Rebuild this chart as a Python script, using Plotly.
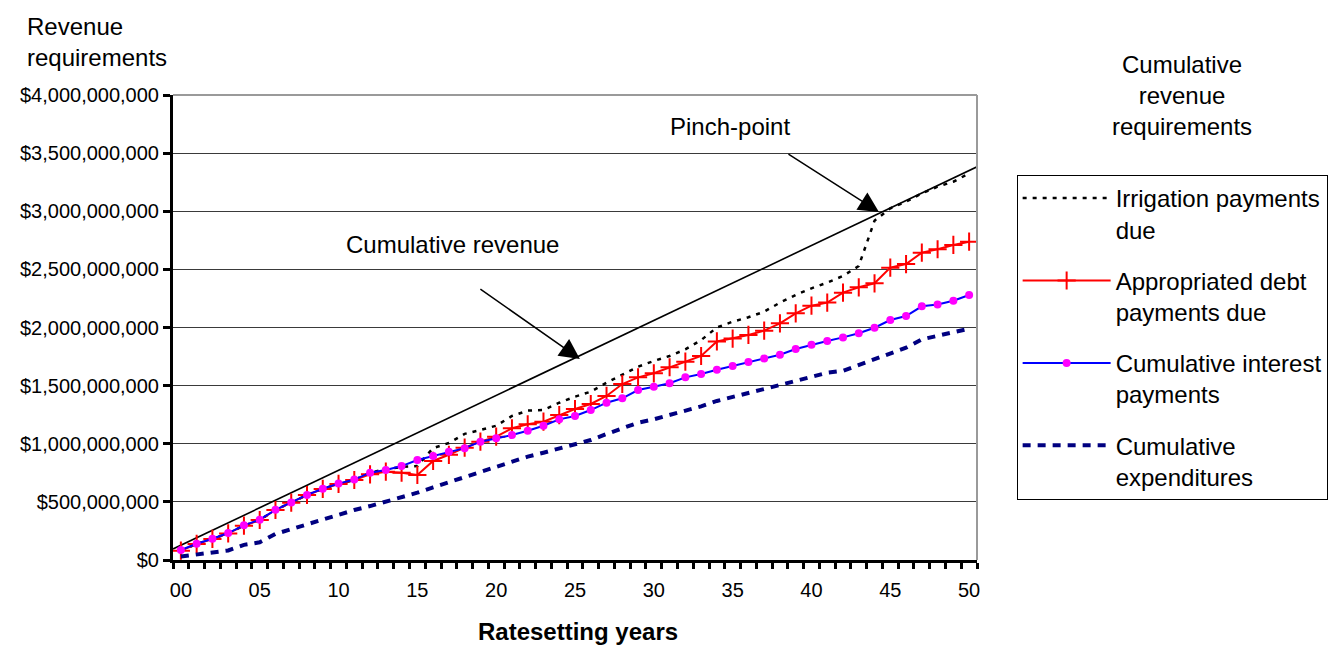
import plotly.graph_objects as go

# ---------------- data (values in millions of dollars) ----------------
years = list(range(0, 51))
tick_vals = [0, 5, 10, 15, 20, 25, 30, 35, 40, 45, 50]
tick_text = ["00", "05", "10", "15", "20", "25", "30", "35", "40", "45", "50"]

irrigation = [80, 138, 181, 229, 295, 344, 430, 493, 559, 611,
              654, 688, 750, 783, 800, 808, 963, 1006, 1085, 1118,
              1155, 1239, 1285, 1290, 1353, 1405, 1448, 1525, 1591, 1663,
              1712, 1755, 1812, 1892, 2000, 2050, 2088, 2136, 2214, 2280,
              2337, 2386, 2443, 2529, 2919, 3025, 3082, 3154, 3211, 3254,
              3326]

appropriated = [80, 138, 181, 229, 295, 344, 430, 493, 559, 611,
                654, 688, 737, 760, 751, 731, 852, 905, 966, 1018,
                1061, 1133, 1167, 1190, 1247, 1299, 1342, 1411, 1514, 1571,
                1606, 1658, 1706, 1755, 1880, 1905, 1936, 1973, 2036, 2122,
                2188, 2214, 2300, 2346, 2380, 2515, 2546, 2644, 2673, 2710,
                2738]

interest = [86, 140, 183, 232, 298, 347, 432, 495, 560, 613,
            657, 692, 751, 774, 808, 860, 894, 932, 962, 1018,
            1047, 1075, 1112, 1155, 1210, 1239, 1290, 1353, 1391, 1462,
            1491, 1520, 1571, 1600, 1637, 1669, 1703, 1733, 1766, 1815,
            1852, 1884, 1915, 1950, 1998, 2064, 2099, 2182, 2198, 2230,
            2280]

expenditures = [30, 50, 66, 82, 130, 152, 224, 267, 310, 350,
                393, 430, 464, 502, 539, 579, 625, 670, 717, 760,
                803, 846, 889, 923, 961, 995, 1032, 1084, 1133, 1181,
                1210, 1247, 1285, 1322, 1368, 1405, 1439, 1471, 1505, 1540,
                1571, 1611, 1628, 1677, 1726, 1783, 1826, 1898, 1927, 1964,
                1990]

revenue_x = [-0.5, 50.5]
revenue_y = [95, 3382]

M = 1e6
FONT = "Liberation Sans, Arial, sans-serif"

fig = go.Figure()

fig.add_trace(go.Scatter(
    x=revenue_x, y=[v * M for v in revenue_y], mode="lines",
    line=dict(color="black", width=1.6), showlegend=False, hoverinfo="skip"))

fig.add_trace(go.Scatter(
    x=years, y=[v * M for v in irrigation], mode="lines",
    name="Irrigation payments<br>due", legendgroup="g1",
    line=dict(color="black", width=2.5, dash="4px,6px")))

fig.add_trace(go.Scatter(
    x=years, y=[v * M for v in appropriated], mode="lines+markers",
    name="Appropriated debt<br>payments due", legendgroup="g2",
    line=dict(color="#ff0000", width=2),
    marker=dict(symbol="cross-thin", size=13, color="#ff0000",
                line=dict(color="#ff0000", width=2))))

fig.add_trace(go.Scatter(
    x=years, y=[v * M for v in interest], mode="lines+markers",
    name="Cumulative interest<br>payments", legendgroup="g3",
    line=dict(color="#0000ff", width=2),
    marker=dict(symbol="circle", size=8, color="#ff00ff")))

fig.add_trace(go.Scatter(
    x=years, y=[v * M for v in expenditures], mode="lines",
    name="Cumulative<br>expenditures", legendgroup="g4",
    line=dict(color="#000080", width=4, dash="8px,7px")))

fig.update_layout(
    width=1332, height=640, autosize=False,
    margin=dict(l=157, r=363, t=87, b=88),
    paper_bgcolor="white", plot_bgcolor="white",
    font=dict(family=FONT, size=24, color="black"),
    showlegend=True,
    legend=dict(
        x=1.0493, y=0.828, xanchor="left", yanchor="top",
        bordercolor="black", borderwidth=1, bgcolor="white",
        font=dict(family=FONT, size=24, color="black"),
        itemwidth=88, tracegroupgap=17, valign="top",
        traceorder="grouped"),
    xaxis=dict(
        range=[-0.5, 50.5], tickmode="array", tickvals=tick_vals,
        ticktext=tick_text, ticks="", showgrid=False, zeroline=False,
        showline=True, linecolor="black", linewidth=3,
        tickfont=dict(family=FONT, size=20, color="black"),
        ticklabelstandoff=10,
        minor=dict(ticks="outside", tick0=-0.5, dtick=1, ticklen=6,
                   tickwidth=3, tickcolor="black", showgrid=False)),
    yaxis=dict(
        range=[0, 4e9], dtick=5e8, tick0=0, tickformat="$,.0f",
        ticks="outside", ticklen=7, tickwidth=3, tickcolor="black",
        showline=True, linecolor="black", linewidth=3,
        showgrid=True, gridcolor="#3a3a3a", gridwidth=1, zeroline=False,
        tickfont=dict(family=FONT, size=20, color="black")),
    shapes=[
        dict(type="line", xref="x domain", yref="y domain", x0=0, x1=1,
             y0=1, y1=1, line=dict(color="#9a9a9a", width=2), layer="above"),
        dict(type="line", xref="x domain", yref="y domain", x0=1, x1=1,
             y0=0, y1=1, line=dict(color="#9a9a9a", width=2), layer="above"),
    ],
    annotations=[
        dict(text="Cumulative revenue", x=17.21, y=2.71e9, xref="x", yref="y",
             showarrow=False, font=dict(size=24)),
        dict(text="", x=25.31, y=1.729e9, xref="x", yref="y",
             showarrow=True, ax=-101, ay=-71, arrowhead=2, arrowsize=2.7,
             arrowwidth=1.5, arrowcolor="black", standoff=0),
        dict(text="Pinch-point", x=34.86, y=3.725e9, xref="x", yref="y",
             showarrow=False, font=dict(size=24)),
        dict(text="", x=44.28, y=2.993e9, xref="x", yref="y",
             showarrow=True, ax=-92, ay=-59, arrowhead=2, arrowsize=2.7,
             arrowwidth=1.5, arrowcolor="black", standoff=0),
        dict(text="Revenue<br>requirements", xref="paper", yref="paper",
             x=-0.1847, y=1.1806, xanchor="left", yanchor="top",
             align="left", showarrow=False, font=dict(size=24)),
        dict(text="Cumulative<br>revenue<br>requirements", xref="paper",
             yref="paper", x=1.2549, y=1.0, xanchor="center",
             yanchor="middle", align="center", showarrow=False,
             font=dict(size=24)),
        dict(text="<b>Ratesetting years</b>", xref="paper", yref="paper",
             x=0.5037, y=-0.1548, xanchor="center", yanchor="middle",
             showarrow=False, font=dict(size=24)),
    ],
)

fig.write_html("out.html")
